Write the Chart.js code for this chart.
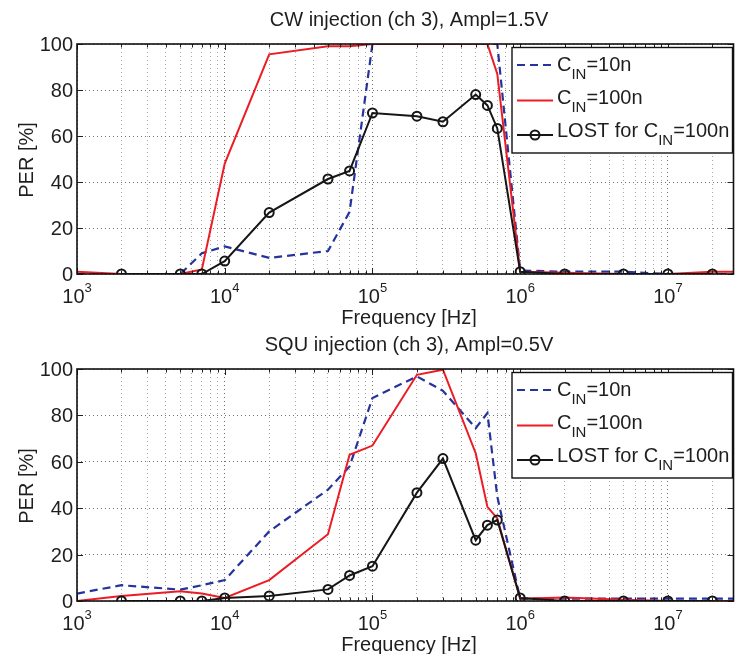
<!DOCTYPE html>
<html>
<head>
<meta charset="utf-8">
<title>PER vs frequency</title>
<script src="https://cdn.jsdelivr.net/npm/chart.js@4.4.1/dist/chart.umd.min.js"></script>
<style>
  html, body { margin: 0; padding: 0; background: #ffffff; }
  #page { position: relative; width: 740px; height: 654px; overflow: hidden; }
  #page canvas { position: absolute; left: 0; }
</style>
</head>
<body>
<div id="page">
  <canvas id="cwChart" width="740" height="327" style="top:0"></canvas>
  <canvas id="squChart" width="740" height="327" style="top:327px"></canvas>
</div>
<script>
// Test frequencies [Hz]
const freq = [1e3, 2e3, 5e3, 7e3, 1e4, 2e4, 5e4, 7e4, 1e5, 2e5, 3e5, 5e5, 6e5, 7e5, 1e6, 2e6, 5e6, 1e7, 2e7, 3e7];
const freqLost = [2e3, 5e3, 7e3, 1e4, 2e4, 5e4, 7e4, 1e5, 2e5, 3e5, 5e5, 6e5, 7e5, 1e6, 2e6, 5e6, 1e7, 2e7];

// CW injection (ch 3), Ampl = 1.5 V  -- PER [%]
const cwCin10n   = [0, 0, 0, 9, 12, 7, 10, 27, 100, 100, 100, 100, 100, 100, 1.5, 1, 1, 0, 0, 0];
const cwCin100n  = [1, 0, 0, 2, 48, 95.5, 99, 99, 100, 100, 100, 100, 100, 87, 1, 0.5, 0, 0, 1, 1];
const cwLost100n = [0, 0, 0, 5.6, 26.7, 41.3, 44.8, 70, 68.6, 66.2, 78, 73.3, 63.3, 1, 0, 0, 0, 0];

// SQU injection (ch 3), Ampl = 0.5 V  -- PER [%]
const squCin10n   = [3.2, 6.8, 4.9, 6.8, 9, 30, 48, 58, 87.5, 96.8, 90.6, 74.5, 81, 45, 1, 1, 1, 1, 1, 1];
const squCin100n  = [0, 2.2, 4.2, 3.2, 1.3, 9, 28.8, 63, 67, 97.5, 99.7, 63.7, 40.6, 35.6, 1, 1.5, 0.5, 0, 0, 0];
const squLost100n = [0, 0, 0, 1.3, 2.2, 5, 11, 15, 46.7, 61.4, 26.2, 32.7, 34.9, 1.3, 0, 0, 0, 0];

// Axis ticks
const xTickDecades = [1e3, 1e4, 1e5, 1e6, 1e7];
const xTickExponents = ['3', '4', '5', '6', '7'];
const yTicks = [0, 20, 40, 60, 80, 100];
const X_MIN = 1e3, X_MAX = 2.78e7;

const FONT = '"Liberation Sans", Arial, Helvetica, sans-serif';
const BLUE = '#25339c';
const RED = '#ec1c24';
const BLACK = '#161616';
const TEXT = '#1e1e1e';

function pts(xs, ys) { return xs.map((x, i) => ({ x: x, y: ys[i] })); }

function makeDatasets(c10, c100, lost) {
  return [
    { data: pts(freq, c10), borderColor: BLUE, borderWidth: 2.2, borderDash: [8, 5],
      pointRadius: 0, order: 2 },
    { data: pts(freq, c100), borderColor: RED, borderWidth: 2, pointRadius: 0, order: 1 },
    { data: pts(freqLost, lost), borderColor: BLACK, borderWidth: 2, pointRadius: 4.5,
      pointBorderWidth: 2, pointBorderColor: BLACK, pointBackgroundColor: 'rgba(0,0,0,0)',
      pointStyle: 'circle', order: 0 }
  ];
}

// every 1..9 x 10^k position inside the x range, for the log grid
function logGridValues() {
  const vals = [];
  for (const d of xTickDecades) {
    for (let m = 1; m <= 9; m++) {
      const v = m * d;
      if (v >= X_MIN && v <= X_MAX) vals.push(v);
    }
  }
  return vals;
}
const isDecade = v => Math.abs(Math.log10(v) - Math.round(Math.log10(v))) < 1e-9;

const legendEntries = [
  { kind: 'dash', color: BLUE, parts: [['C'], ['IN', true], ['=10n']] },
  { kind: 'line', color: RED, parts: [['C'], ['IN', true], ['=100n']] },
  { kind: 'marker', color: BLACK, parts: [['LOST for C'], ['IN', true], ['=100n']] }
];

function drawParts(ctx, parts, x, y) {
  for (const [t, sub] of parts) {
    if (sub) {
      ctx.font = '15px ' + FONT;
      ctx.fillText(t, x, y + 8);
    } else {
      ctx.font = '20px ' + FONT;
      ctx.fillText(t, x, y);
    }
    x += ctx.measureText(t).width;
  }
}

const matlabAxes = {
  id: 'matlabAxes',
  afterDatasetsDraw(chart, args, opts) {
    const ctx = chart.ctx;
    const a = chart.chartArea;
    const xs = chart.scales.x, ys = chart.scales.y;
    ctx.save();

    // tick marks pointing inwards on all four sides
    ctx.strokeStyle = '#222';
    ctx.lineWidth = 1;
    ctx.beginPath();
    for (const t of xs.ticks) {
      const px = Math.round(xs.getPixelForValue(t.value)) + 0.5;
      const len = isDecade(t.value) ? 6 : 3.5;
      ctx.moveTo(px, a.bottom); ctx.lineTo(px, a.bottom - len);
      ctx.moveTo(px, a.top); ctx.lineTo(px, a.top + len);
    }
    for (const v of yTicks) {
      const py = Math.round(ys.getPixelForValue(v)) + 0.5;
      ctx.moveTo(a.left, py); ctx.lineTo(a.left + 6, py);
      ctx.moveTo(a.right, py); ctx.lineTo(a.right - 6, py);
    }
    ctx.stroke();

    // axes box
    ctx.strokeStyle = '#111';
    ctx.lineWidth = 1.6;
    ctx.strokeRect(a.left, a.top, a.right - a.left, a.bottom - a.top);

    ctx.fillStyle = TEXT;
    ctx.textBaseline = 'alphabetic';

    // y tick labels
    ctx.font = '20px ' + FONT;
    ctx.textAlign = 'right';
    for (const v of yTicks) {
      ctx.fillText(String(v), a.left - 4, ys.getPixelForValue(v) + 7);
    }

    // x tick labels 10^k
    ctx.textAlign = 'left';
    xTickDecades.forEach((v, i) => {
      const px = xs.getPixelForValue(v);
      ctx.font = '20px ' + FONT;
      const wBase = ctx.measureText('10').width;
      ctx.font = '13px ' + FONT;
      const wExp = ctx.measureText(xTickExponents[i]).width;
      const x0 = px - (wBase + wExp) / 2;
      ctx.font = '20px ' + FONT;
      ctx.fillText('10', x0, a.bottom + 29);
      ctx.font = '13px ' + FONT;
      ctx.fillText(xTickExponents[i], x0 + wBase, a.bottom + 18);
    });

    // title and axis labels
    ctx.font = '20px ' + FONT;
    ctx.textAlign = 'center';
    ctx.fillText(opts.title, 409, a.top - 18);
    ctx.fillText('Frequency [Hz]', 409, a.bottom + 50);
    ctx.save();
    ctx.translate(33, (a.top + a.bottom) / 2 + 1);
    ctx.rotate(-Math.PI / 2);
    ctx.fillText('PER [%]', 0, 0);
    ctx.restore();

    // legend
    const L = 512, T = a.top + 3.5, R = a.right - 1, B = a.top + 109;
    ctx.fillStyle = '#ffffff';
    ctx.fillRect(L, T, R - L, B - T);
    ctx.strokeStyle = '#111';
    ctx.lineWidth = 1.4;
    ctx.strokeRect(L, T, R - L, B - T);
    const lineY = [17.5, 53, 87.5];
    const textY = [23.5, 56.5, 89];
    legendEntries.forEach((e, i) => {
      const ly = T + lineY[i];
      ctx.strokeStyle = e.color;
      ctx.lineWidth = 2;
      ctx.setLineDash(e.kind === 'dash' ? [8, 5] : []);
      ctx.beginPath();
      ctx.moveTo(L + 5, ly); ctx.lineTo(L + 41, ly);
      ctx.stroke();
      ctx.setLineDash([]);
      if (e.kind === 'marker') {
        ctx.beginPath();
        ctx.arc(L + 23, ly, 4.5, 0, Math.PI * 2);
        ctx.stroke();
      }
      ctx.fillStyle = TEXT;
      ctx.textAlign = 'left';
      drawParts(ctx, e.parts, L + 45, T + textY[i]);
    });

    ctx.restore();
  }
};

function makeChart(id, title, c10, c100, lost, padTop) {
  return new Chart(document.getElementById(id), {
    type: 'line',
    data: { datasets: makeDatasets(c10, c100, lost) },
    options: {
      responsive: false,
      devicePixelRatio: 1,
      animation: false,
      events: [],
      layout: { padding: { left: 77, right: 1, top: padTop, bottom: 53 } },
      elements: { line: { tension: 0, fill: false } },
      scales: {
        x: {
          type: 'logarithmic', min: X_MIN, max: X_MAX,
          afterBuildTicks: s => { s.ticks = logGridValues().map(v => ({ value: v })); },
          ticks: { display: false },
          grid: {
            drawTicks: false, lineWidth: 1,
            color: c => (c.tick && isDecade(c.tick.value)) ? '#707070' : '#a8a8a8'
          },
          border: { display: false, dash: [1, 3] }
        },
        y: {
          min: 0, max: 100,
          afterBuildTicks: s => { s.ticks = yTicks.map(v => ({ value: v })); },
          ticks: { display: false },
          grid: { drawTicks: false, lineWidth: 1, color: '#707070' },
          border: { display: false, dash: [1, 3] }
        }
      },
      plugins: {
        legend: { display: false },
        title: { display: false },
        tooltip: { enabled: false },
        matlabAxes: { title: title }
      }
    },
    plugins: [matlabAxes]
  });
}

makeChart('cwChart', 'CW injection (ch 3), Ampl=1.5V', cwCin10n, cwCin100n, cwLost100n, 44);
makeChart('squChart', 'SQU injection (ch 3), Ampl=0.5V', squCin10n, squCin100n, squLost100n, 42);
</script>
</body>
</html>
